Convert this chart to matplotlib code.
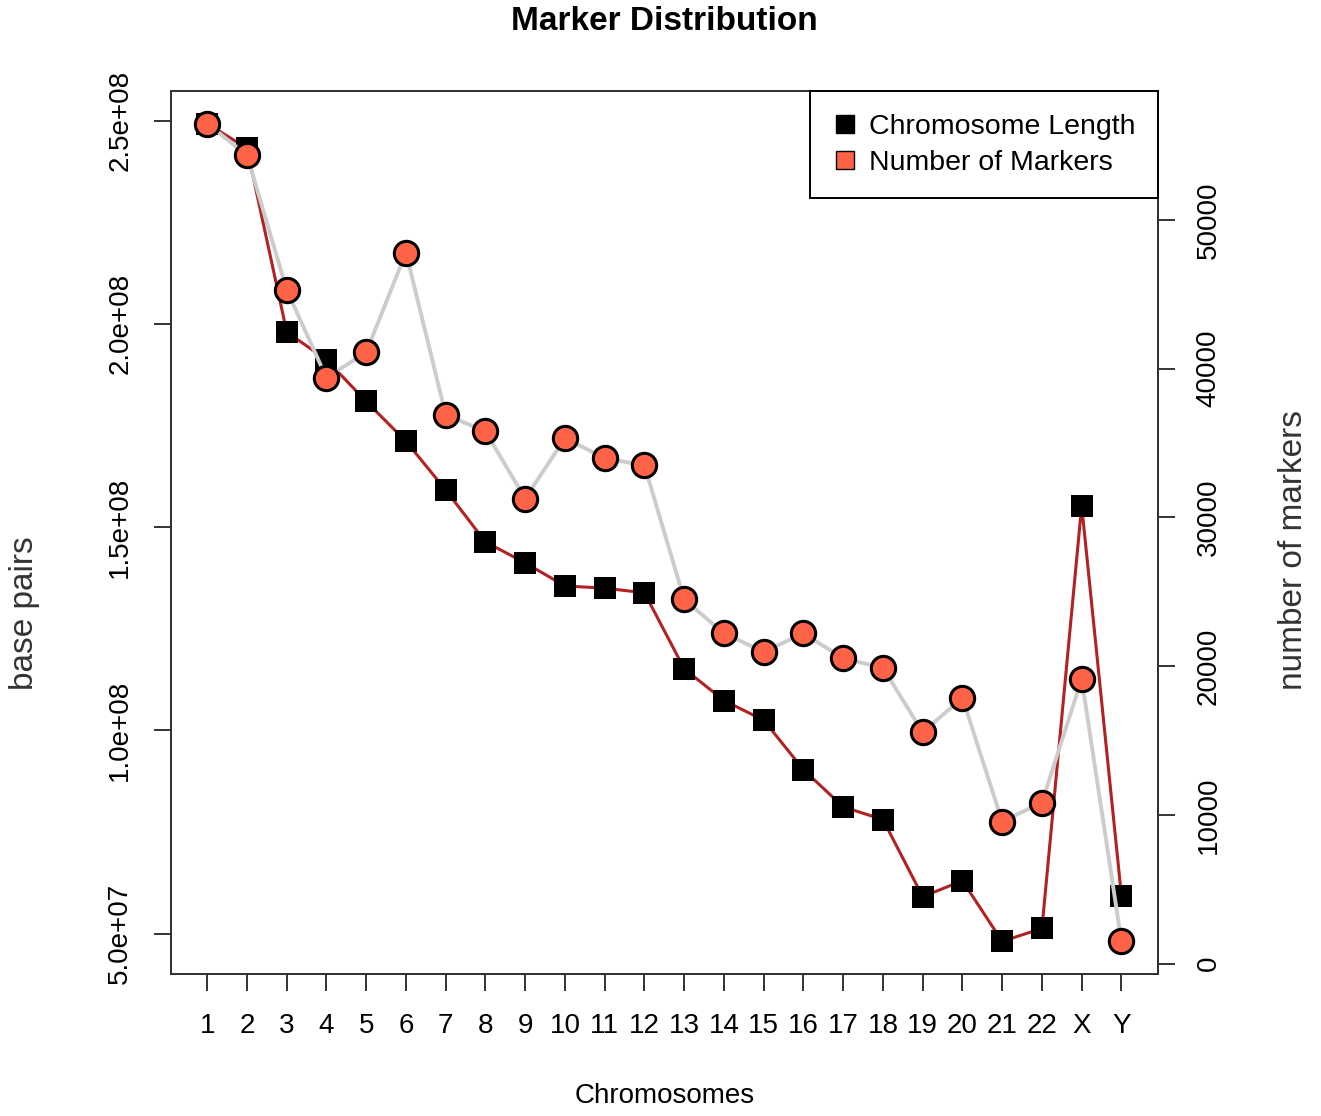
import numpy as np
import matplotlib.pyplot as plt

plt.rcParams['font.family'] = ['Liberation Sans', 'DejaVu Sans']

# chromosomes and values
chroms = ['1', '2', '3', '4', '5', '6', '7', '8', '9', '10', '11', '12',
          '13', '14', '15', '16', '17', '18', '19', '20', '21', '22', 'X', 'Y']
chrom_length = [249250621, 243199373, 198022430, 191154276, 180915260, 171115067,
                159138663, 146364022, 141213431, 135534747, 135006516, 133851895,
                115169878, 107349540, 102531392, 90354753, 81195210, 78077248,
                59128983, 63025520, 48129895, 51304566, 155270560, 59373566]
n_markers = [56460, 54340, 45280, 39380, 41100, 47800, 36890, 35770, 31260, 35320,
             33980, 33490, 24480, 22200, 20960, 22200, 20520, 19890, 15550, 17870,
             9550, 10830, 19130, 1500]

left_ticks = [5e7, 1e8, 1.5e8, 2e8, 2.5e8]
left_labels = ['5.0e+07', '1.0e+08', '1.5e+08', '2.0e+08', '2.5e+08']
right_ticks = [0, 10000, 20000, 30000, 40000, 50000]

xs = np.arange(1, len(chroms) + 1)


def r_lim(v):
    # R-style 4% padding
    lo, hi = min(v), max(v)
    d = (hi - lo) * 0.04
    return lo - d, hi + d


fig = plt.figure(figsize=(13.21, 11.16), dpi=100)
ax = fig.add_axes([0.1292, 0.1272, 0.8766 - 0.1292, 0.9185 - 0.1272])
ax2 = ax.twinx()

red = '#B22222'
orange = '#FF6347'
grey = '#CCCCCC'
frame = '#333333'

ax.plot(xs, chrom_length, color=red, lw=2.2, zorder=2)
ax.plot(xs, chrom_length, ls='none', marker='s', ms=16.5, mfc='black',
        mec='black', mew=0, zorder=3)

ax2.plot(xs, n_markers, color=grey, lw=2.8, zorder=2)
ax2.plot(xs, n_markers, ls='none', marker='o', ms=17.5, mfc=orange,
         mec='black', mew=2.2, zorder=3)

ax.set_xlim(r_lim(xs))
ax.set_ylim(r_lim(chrom_length))
ax2.set_ylim(r_lim(n_markers))

ax.set_xticks(xs, labels=chroms)
ax.set_yticks(left_ticks, labels=left_labels)
ax2.set_yticks(right_ticks, labels=[str(t) for t in right_ticks])

for a in (ax, ax2):
    for s in a.spines.values():
        s.set_linewidth(1.4)
        s.set_color(frame)
    a.tick_params(direction='out', length=12, width=1.4, color=frame,
                  labelsize=20, pad=15)
ax.tick_params(axis='x', pad=16)
for lab in ax.get_yticklabels():
    lab.set_rotation(90)
    lab.set_va('center')
for lab in ax2.get_yticklabels():
    lab.set_rotation(90)
    lab.set_va('center')

# legend
h1, = ax.plot([], [], ls='none', marker='s', ms=13.5, mfc='black', mec='black')
h2, = ax.plot([], [], ls='none', marker='s', ms=13.5, mfc=orange, mec='black', mew=1.0)
leg = ax2.legend([h1, h2], ['Chromosome Length', 'Number of Markers'],
                 loc='upper right', bbox_to_anchor=(1, 1), borderaxespad=0,
                 fontsize=20.5, fancybox=False, framealpha=1, edgecolor='black',
                 handlelength=0.85, handletextpad=0.4, borderpad=0.8,
                 labelspacing=0.35)
leg.get_frame().set_linewidth(1.4)

W, H = 1321, 1116
fig.text(664.5 / W, 1 - 21 / H, 'Marker Distribution', ha='center', va='center',
         fontsize=24, fontweight='bold')
fig.text(664.5 / W, 1 - 1096 / H, 'Chromosomes', ha='center', va='center', fontsize=20)
fig.text(25 / W, 1 - 613 / H, 'base pairs', ha='center', va='center', rotation=90,
         fontsize=24, color='#333333')
fig.text(1293 / W, 1 - 550 / H, 'number of markers', ha='center', va='center',
         rotation=90, fontsize=24, color='#333333')

fig.savefig('out.png', dpi=100)
